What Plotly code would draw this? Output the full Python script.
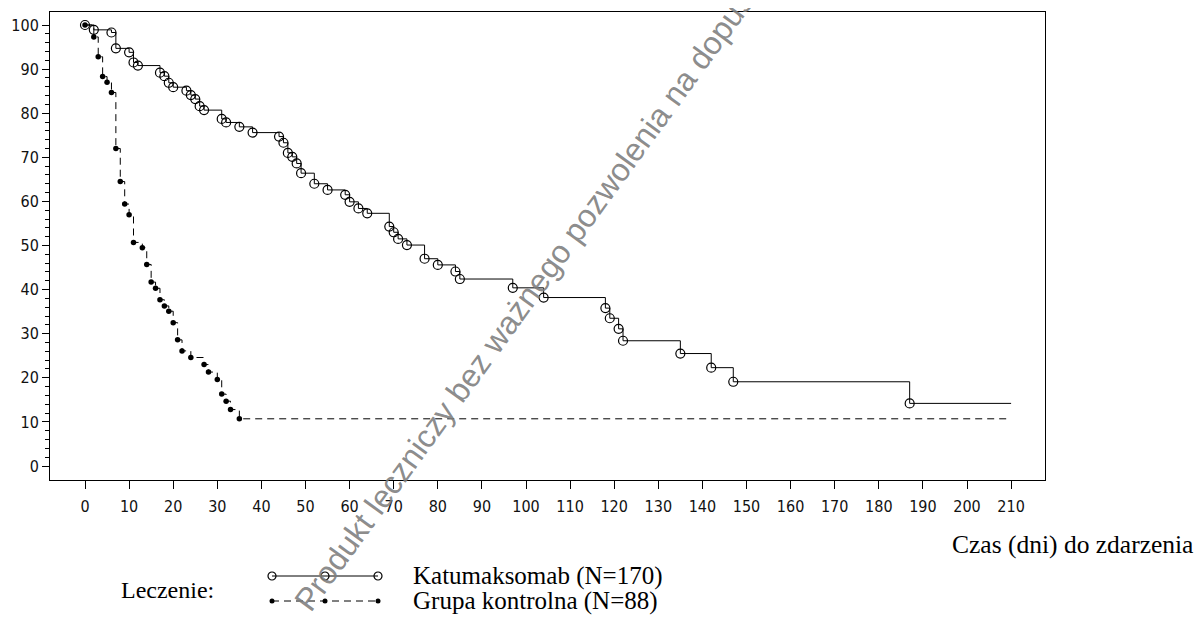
import plotly.graph_objects as go

# ---------------- data ----------------
kat_days = [0, 2, 6, 7, 10, 11, 12, 17, 18, 19, 20, 23, 24, 25, 26, 27, 31, 32, 35, 38,
            44, 45, 46, 47, 48, 49, 52, 55, 59, 60, 62, 64, 69, 70, 71, 73, 77, 80, 84, 85,
            97, 104, 118, 119, 121, 122, 135, 142, 147, 187]
kat_surv = [100, 98.9, 98.3, 94.7, 93.8, 91.5, 90.8, 89.2, 88.4, 86.9, 85.9, 85.1, 84.1, 83.2,
            81.6, 80.7, 78.7, 77.9, 76.9, 75.6, 74.7, 73.3, 71.0, 70.1, 68.6, 66.4, 64.0, 62.6,
            61.5, 59.9, 58.4, 57.3, 54.3, 53.0, 51.5, 50.1, 47.0, 45.6, 44.1, 42.4, 40.4, 38.2,
            35.8, 33.5, 31.1, 28.4, 25.5, 22.3, 19.1, 14.2]
ctrl_days = [0, 2, 3, 4, 5, 6, 7, 8, 9, 10, 11, 13, 14, 15, 16, 17, 18, 19, 20, 21, 22, 24,
             27, 28, 30, 31, 32, 33, 35]
ctrl_surv = [100, 97.3, 92.8, 88.3, 87.0, 84.7, 72.0, 64.5, 59.4, 57.0, 50.7, 49.5, 45.7, 41.7,
             40.3, 37.7, 36.3, 35.1, 32.5, 28.6, 26.1, 24.6, 23.0, 21.3, 19.6, 16.3, 14.7, 12.8, 10.7]
end_day = 210

x_ticks = list(range(0, 211, 10))
y_ticks = list(range(0, 101, 10))
y_minor = [v for v in range(0, 101, 2) if v % 10]

kat_name = "Katumaksomab (N=170)"
ctrl_name = "Grupa kontrolna (N=88)"
legend_title = "Leczenie:"
x_title = "Czas (dni) do zdarzenia"
watermark = "Produkt leczniczy bez ważnego pozwolenia na dopuszczenie do obrotu"

# ---------------- geometry (page pixels) ----------------
PAGE_W, PAGE_H = 1204, 624
OFF = 8                      # default body margin of the page
W, H = PAGE_W - OFF, PAGE_H - OFF
L, R, T = 50, 1045, 12       # plot area in page pixels
PB = 480                     # plot bottom in page pixels


def px(xp):
    return (xp - L) / (R - L)


def py(yp):
    return (PAGE_H - yp) / (PAGE_H - T)


tick_font = dict(family="DejaVu Sans Condensed, Liberation Sans Narrow, Arial Narrow, sans-serif",
                 size=16, color="#111111")
serif = "Liberation Serif, Times New Roman, serif"

fig = go.Figure()

# Katumaksomab
fig.add_trace(go.Scatter(x=kat_days + [end_day], y=kat_surv + [kat_surv[-1]], mode="lines",
                         line=dict(color="black", width=1, shape="hv"), showlegend=False,
                         hoverinfo="skip"))
fig.add_trace(go.Scatter(x=kat_days, y=kat_surv, mode="markers", name=kat_name,
                         marker=dict(symbol="circle-open", size=9, color="black",
                                     line=dict(width=1.2, color="black")),
                         showlegend=False))
# Control
fig.add_trace(go.Scatter(x=ctrl_days + [end_day], y=ctrl_surv + [ctrl_surv[-1]], mode="lines",
                         line=dict(color="black", width=1, shape="hv", dash="7px,5px"),
                         showlegend=False, hoverinfo="skip"))
fig.add_trace(go.Scatter(x=ctrl_days, y=ctrl_surv, mode="markers", name=ctrl_name,
                         marker=dict(symbol="circle", size=5.5, color="black"),
                         showlegend=False))

# legend keys on a small auxiliary axis
fig.add_trace(go.Scatter(x=[0, 1, 2], y=[1, 1, 1], mode="lines+markers", xaxis="x2", yaxis="y2",
                         line=dict(color="black", width=1),
                         marker=dict(symbol="circle-open", size=8, color="black",
                                     line=dict(width=1.2, color="black")),
                         cliponaxis=False, showlegend=False, hoverinfo="skip"))
fig.add_trace(go.Scatter(x=[0, 1, 2], y=[0, 0, 0], mode="lines+markers", xaxis="x2", yaxis="y2",
                         line=dict(color="black", width=1, dash="7px,5px"),
                         marker=dict(symbol="circle", size=5, color="black"),
                         cliponaxis=False, showlegend=False, hoverinfo="skip"))

xr0 = (L - 85) / 4.41
xr1 = (R - 85) / 4.41
yr0 = (466 - PB) / 4.41
yr1 = (466 - T) / 4.41

fig.update_layout(
    width=W, height=H,
    margin=dict(l=L - OFF, r=PAGE_W - R, t=T - OFF, b=0, pad=0),
    paper_bgcolor="white", plot_bgcolor="white",
    xaxis=dict(range=[xr0, xr1], tickmode="array", tickvals=x_ticks,
               ticktext=[str(v) for v in x_ticks], ticks="outside", ticklen=8, tickwidth=1,
               tickcolor="black", showline=True, linecolor="black", linewidth=1, mirror=True,
               showgrid=False, zeroline=False, tickfont=tick_font, ticklabelstandoff=4,
               domain=[0, 1]),
    yaxis=dict(range=[yr0, yr1], tickmode="array", tickvals=y_ticks,
               ticktext=[str(v) for v in y_ticks], ticks="outside", ticklen=7, tickwidth=1,
               tickcolor="black", showline=True, linecolor="black", linewidth=1, mirror=True,
               showgrid=False, zeroline=False, tickfont=tick_font,
               minor=dict(tickmode="array", tickvals=y_minor, ticks="outside", ticklen=4,
                          tickcolor="black", showgrid=False),
               domain=[py(PB), 1]),
    xaxis2=dict(domain=[px(272), px(378)], range=[0, 2], visible=False, anchor="y2",
                fixedrange=True),
    yaxis2=dict(domain=[py(613.5), py(563.5)], range=[-0.5, 1.5], visible=False, anchor="x2",
                fixedrange=True),
    showlegend=False,
)

ann = []
ann.append(dict(text=x_title, xref="paper", yref="paper", x=px(950), y=py(544),
                xanchor="left", yanchor="middle", showarrow=False,
                font=dict(family=serif, size=25.5, color="black")))
ann.append(dict(text=legend_title, xref="paper", yref="paper", x=px(119), y=py(590),
                xanchor="left", yanchor="middle", showarrow=False,
                font=dict(family=serif, size=24, color="black")))
ann.append(dict(text=kat_name, xref="paper", yref="paper", x=px(411), y=py(576),
                xanchor="left", yanchor="middle", showarrow=False,
                font=dict(family=serif, size=25, color="black")))
ann.append(dict(text=ctrl_name, xref="paper", yref="paper", x=px(411), y=py(601),
                xanchor="left", yanchor="middle", showarrow=False,
                font=dict(family=serif, size=25, color="black")))
ann.append(dict(text=watermark, xref="paper", yref="paper", x=px(598), y=py(199),
                xanchor="center", yanchor="middle", showarrow=False, textangle=-54,
                font=dict(family="Liberation Sans, Arial, sans-serif", size=32,
                          color="rgba(125,125,125,0.9)")))
fig.update_layout(annotations=ann)

fig.write_html("out.html")
